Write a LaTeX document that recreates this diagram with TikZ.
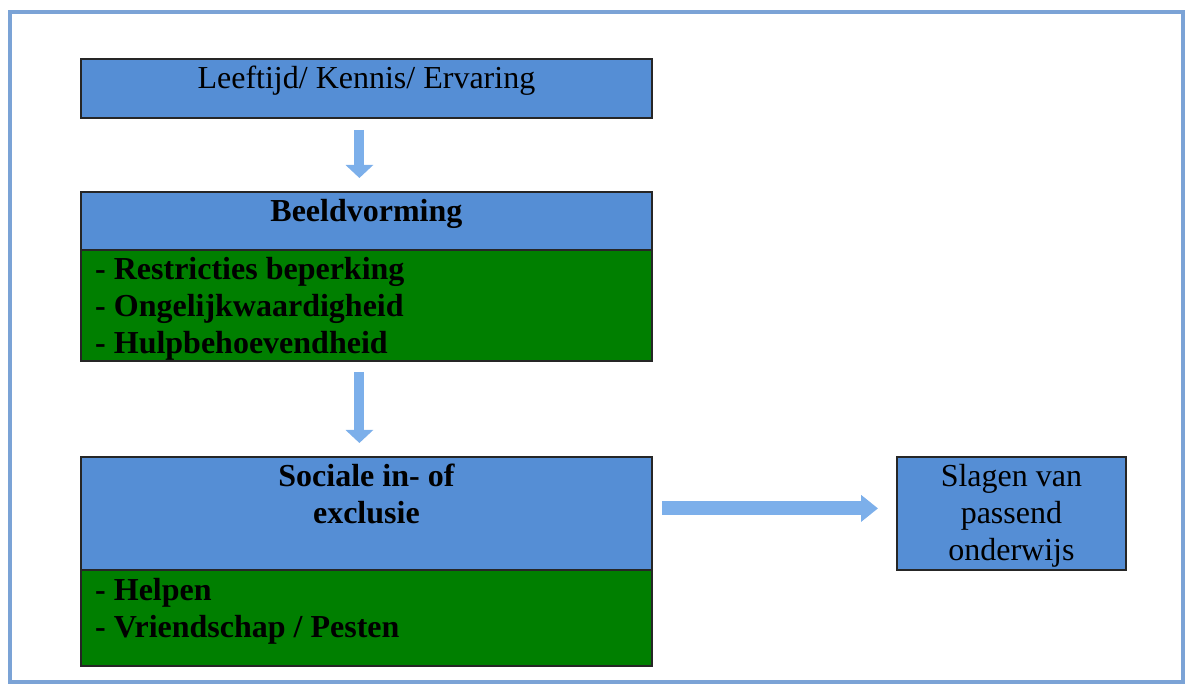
\documentclass[tikz,border=0pt]{standalone}
\usepackage{fontspec}
\setmainfont{Liberation Serif}
\usetikzlibrary{arrows.meta}
\definecolor{boxblue}{HTML}{558ED5}
\definecolor{boxgreen}{HTML}{007F00}
\definecolor{frameblue}{HTML}{7BA3D6}
\definecolor{arrowblue}{HTML}{7CAFEA}
\begin{document}
\begin{tikzpicture}[x=1pt, y=-1pt, font=\fontsize{32}{37}\selectfont,
    box/.style={draw=black!85, line width=1.8pt, anchor=north west, inner sep=0pt},
    txt/.style={anchor=base, inner sep=0pt, align=center},
    listtxt/.style={anchor=base west, inner sep=0pt, align=left, font=\fontsize{32}{37}\selectfont\bfseries},
    flow/.style={line width=10pt, arrowblue, -{Triangle[length=13pt,width=27pt]}}]
    \useasboundingbox (0,0) rectangle (1187,684);
    \draw[frameblue, line width=4.5pt] (10,12) rectangle (1183,682);
    % boxes
    \node[box, fill=boxblue, minimum width=571pt, minimum height=59pt] (lk) at (80,58) {};
    \node[box, fill=boxblue, minimum width=571pt, minimum height=58pt] (bv) at (80,191) {};
    \node[box, fill=boxgreen, minimum width=571pt, minimum height=111pt] (bvlist) at (80,249) {};
    \node[box, fill=boxblue, minimum width=571pt, minimum height=113pt] (si) at (80,456) {};
    \node[box, fill=boxgreen, minimum width=571pt, minimum height=96pt] (silist) at (80,569) {};
    \node[box, fill=boxblue, minimum width=229pt, minimum height=113pt] (spo) at (896,456) {};
    % texts (base = last line)
    \node[txt] (lktxt) at ([yshift=-31pt]lk.north) {Leeftijd/ Kennis/ Ervaring};
    \node[txt, font=\fontsize{32}{37}\selectfont\bfseries] (bvtxt) at ([yshift=-31pt]bv.north) {Beeldvorming};
    \node[listtxt] (bvlisttxt) at ([xshift=15pt,yshift=-105pt]bvlist.north west) {- Restricties beperking\\- Ongelijkwaardigheid\\- Hulpbehoevendheid};
    \node[txt, font=\fontsize{32}{37}\selectfont\bfseries] (sitxt) at ([yshift=-68pt]si.north) {Sociale in- of\\exclusie};
    \node[listtxt] (silisttxt) at ([xshift=15pt,yshift=-68pt]silist.north west) {- Helpen\\- Vriendschap / Pesten};
    \node[txt] (spotxt) at ([yshift=-105pt]spo.north) {Slagen van\\passend\\onderwijs};
    % arrows
    \draw[flow, shorten <=11pt, shorten >=13pt] ([xshift=-7pt]lk.south) -- ([xshift=-7pt]bv.north);
    \draw[flow, shorten <=10pt, shorten >=13pt] ([xshift=-7pt]bvlist.south) -- ([xshift=-7pt]si.north);
    \draw[flow, line width=14pt, -{Triangle[length=17pt,width=26pt]}, shorten <=9pt, shorten >=18pt] ([yshift=5pt]si.east) -- ([yshift=5pt]spo.west);
\end{tikzpicture}
\end{document}
